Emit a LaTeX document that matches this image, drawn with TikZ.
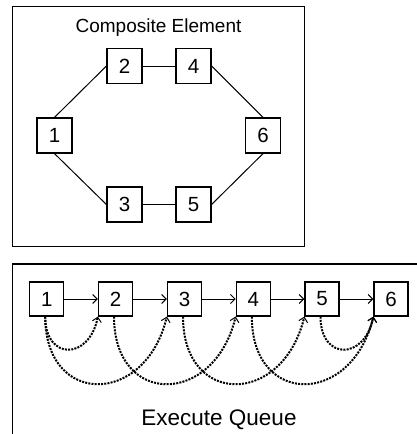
\documentclass[tikz,border=0pt]{standalone}
\usepackage{fontspec}
\setmainfont{Liberation Sans}
\usetikzlibrary{arrows.meta}
\begin{document}
\begin{tikzpicture}[x=1pt,y=-1pt,
  box/.style={draw,line width=1.2pt,minimum width=34pt,minimum height=34pt,inner sep=0pt,font=\fontsize{20.5}{20.5}\selectfont},
  frame/.style={draw,line width=1.2pt},
  link/.style={line width=1pt},
  seq/.style={line width=1pt,-{Straight Barb[length=4.5pt,width=9pt]}},
  dep/.style={line width=2pt,dash pattern=on 2pt off 1.2pt,-{Straight Barb[length=4.5pt,width=9pt,line width=1pt]}}]
\useasboundingbox (0,0) rectangle (417,434);
\fill[white] (0,0) rectangle (417,434);
% top frame
\draw[frame] (12.5,6.5) rectangle (304.5,246.5);
\node[font=\fontsize{19}{19}\selectfont,anchor=base] (title) at (158.5,32.5) {Composite Element};
\node[box,minimum width=35pt,minimum height=35pt] (a1) at (54.5,135.5) {1};
\node[box,minimum width=35pt,minimum height=35pt] (a2) at (124.5,66) {2};
\node[box,minimum width=35pt,minimum height=35pt] (a4) at (193.5,66) {4};
\node[box,minimum width=35pt,minimum height=35pt] (a6) at (263,135.5) {6};
\node[box,minimum width=35pt,minimum height=35pt] (a3) at (124.5,204.5) {3};
\node[box,minimum width=35pt,minimum height=35pt] (a5) at (193.5,204.5) {5};
\draw[link] (a1.north) -- (a2.west);
\draw[link] (a2.east) -- (a4.west);
\draw[link] (a4.east) -- (a6.north);
\draw[link] (a1.south) -- (a3.west);
\draw[link] (a3.east) -- (a5.west);
\draw[link] (a5.east) -- (a6.south);
% bottom frame (cropped)
\draw[frame] (12.5,440) -- (12.5,264) -- (420,264);
\node[box] (b1) at (46.7,299) {1};
\node[box] (b2) at (115.5,299) {2};
\node[box] (b3) at (184.5,299) {3};
\node[box] (b4) at (253.3,299) {4};
\node[box] (b5) at (322,299) {5};
\node[box] (b6) at (391,299) {6};
\draw[seq] (b1.east) -- (b2.west);
\draw[seq] (b2.east) -- (b3.west);
\draw[seq] (b3.east) -- (b4.west);
\draw[seq] (b4.east) -- (b5.west);
\draw[seq] (b5.east) -- (b6.west);
\draw[dep] ([xshift=-1.5pt]b1.south) .. controls +(0,44) and +(-9,44) .. (b2.south west);
\draw[dep] ([xshift=-1.5pt]b1.south) .. controls +(0,90) and +(-22,90) .. (b3.south west);
\draw[dep] ([xshift=-1.5pt]b2.south) .. controls +(0,90) and +(-22,90) .. (b4.south west);
\draw[dep] ([xshift=-1.5pt]b3.south) .. controls +(0,90) and +(-22,90) .. (b5.south west);
\draw[dep] ([xshift=-1.5pt]b4.south) .. controls +(0,90) and +(-22,90) .. (b6.south west);
\draw[dep] ([xshift=-1.5pt]b5.south) .. controls +(0,44) and +(-9,44) .. (b6.south west);
\node[font=\fontsize{22.5}{22.5}\selectfont,anchor=base] (queue) at (219,425) {Execute Queue};
\end{tikzpicture}
\end{document}
